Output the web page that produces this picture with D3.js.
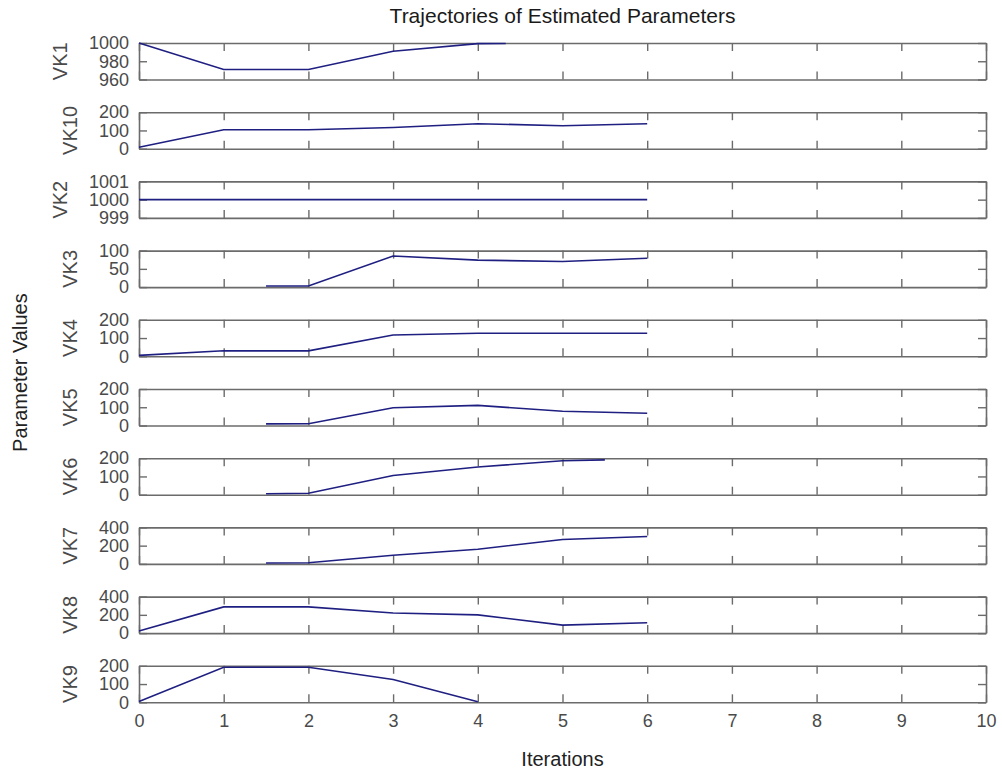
<!DOCTYPE html>
<html>
<head>
<meta charset="utf-8">
<script src="https://cdn.jsdelivr.net/npm/d3@7"></script>
<style>
  html, body { margin: 0; padding: 0; background: #fff; }
  svg { display: block; }
  text { font-family: "Liberation Sans", Arial, sans-serif; }
</style>
</head>
<body>
<svg id="chart" width="1002" height="778"></svg>
<script>
// Panel names, top to bottom
const panelNames = ["VK1", "VK10", "VK2", "VK3", "VK4", "VK5", "VK6", "VK7", "VK8", "VK9"];

// Iteration values along the x axis
const itersFull  = [0, 1, 2, 3, 4, 5, 6];
const itersLate  = [1.5, 2, 3, 4, 5, 6];
const itersVK1   = [0, 1, 2, 3, 4, 4.33];
const itersVK6   = [1.5, 2, 3, 4, 5, 5.5];
const itersVK9   = [0, 1, 2, 3, 4];

// Estimated parameter values per iteration
const valsVK1  = [1000, 971, 971, 991, 999.3, 999.5];
const valsVK10 = [8, 104, 104, 116, 137, 126, 137];
const valsVK2  = [1000, 1000, 1000, 1000, 1000, 1000, 1000];
const valsVK3  = [3, 3, 85, 74, 70, 79];
const valsVK4  = [5, 30, 30, 117, 126, 126, 126];
const valsVK5  = [9, 10, 97, 110, 78, 67];
const valsVK6  = [5, 8, 105, 152, 186, 191];
const valsVK7  = [10, 12, 95, 160, 268, 300];
const valsVK8  = [22, 287, 287, 220, 200, 87, 113];
const valsVK9  = [5, 192, 192, 125, 3];

// Y-axis ranges and tick labels per panel
const yDomains = [[960, 1000], [0, 200], [999, 1001], [0, 100], [0, 200], [0, 200], [0, 200], [0, 400], [0, 400], [0, 200]];
const yTicks = [[960, 980, 1000], [0, 100, 200], [999, 1000, 1001], [0, 50, 100], [0, 100, 200], [0, 100, 200], [0, 100, 200], [0, 200, 400], [0, 200, 400], [0, 100, 200]];

// X-axis ticks
const xTicks = [0, 1, 2, 3, 4, 5, 6, 7, 8, 9, 10];

const seriesX = [itersVK1, itersFull, itersFull, itersLate, itersFull, itersLate, itersVK6, itersLate, itersFull, itersVK9];
const seriesY = [valsVK1, valsVK10, valsVK2, valsVK3, valsVK4, valsVK5, valsVK6, valsVK7, valsVK8, valsVK9];

const svg = d3.select("#chart");

const left = 139, right = 986;
const firstTop = 43, period = 69.2, panelH = 36.5;
const tickLen = 8;
const boxColor = "#6b6b6b";
const tickTextColor = "#4a4a4a";
const lineColor = "#1f1f82";

const x = d3.scaleLinear().domain([0, 10]).range([left, right]);

panelNames.forEach((name, i) => {
  const top = firstTop + i * period;
  const bottom = top + panelH;
  const y = d3.scaleLinear().domain(yDomains[i]).range([bottom, top]);
  const g = svg.append("g");
  const isLast = i === panelNames.length - 1;

  // inward ticks on all four sides of the box
  const xb = d3.axisBottom(x).tickValues(xTicks).tickSizeInner(-tickLen).tickSizeOuter(0).tickFormat(isLast ? d3.format("d") : "");
  const xt = d3.axisTop(x).tickValues(xTicks).tickSizeInner(-tickLen).tickSizeOuter(0).tickFormat("");
  const yl = d3.axisLeft(y).tickValues(yTicks[i]).tickSizeInner(-tickLen).tickSizeOuter(0).tickFormat(d3.format("d"));
  const yr = d3.axisRight(y).tickValues(yTicks[i]).tickSizeInner(-tickLen).tickSizeOuter(0).tickFormat("");

  const gxb = g.append("g").attr("transform", `translate(0,${bottom})`).call(xb);
  g.append("g").attr("transform", `translate(0,${top})`).call(xt);
  const gyl = g.append("g").attr("transform", `translate(${left},0)`).call(yl);
  g.append("g").attr("transform", `translate(${right},0)`).call(yr);

  g.selectAll(".domain").attr("stroke", boxColor).attr("stroke-width", 1.6);
  g.selectAll(".tick line").attr("stroke", boxColor).attr("stroke-width", 1.4);
  g.selectAll(".tick text")
    .attr("fill", tickTextColor)
    .style("font-size", "18px")
    .style("font-family", "'Liberation Sans', Arial, sans-serif");

  // y tick labels sit just left of the box
  gyl.selectAll(".tick text").attr("x", -10);

  // x tick labels below the bottom panel
  if (isLast) {
    gxb.selectAll(".tick text").attr("y", 12).attr("dy", "0.71em");
  }

  // trajectory
  const pts = seriesX[i].map((v, k) => [v, seriesY[i][k]]);
  g.append("path")
    .datum(pts)
    .attr("fill", "none")
    .attr("stroke", lineColor)
    .attr("stroke-width", 1.6)
    .attr("d", d3.line().x(d => x(d[0])).y(d => y(d[1])));

  // panel label, left of the tick labels
  const maxLabel = d3.max(yTicks[i], t => String(t).length);
  const labelX = maxLabel >= 4 ? 60 : 70;
  svg.append("text")
    .attr("transform", `translate(${labelX},${(top + bottom) / 2}) rotate(-90)`)
    .attr("text-anchor", "middle")
    .attr("dy", "0.35em")
    .attr("fill", tickTextColor)
    .style("font-size", "20px")
    .text(name);
});

// Title
svg.append("text")
  .attr("x", (left + right) / 2)
  .attr("y", 23)
  .attr("text-anchor", "middle")
  .attr("fill", "#1a1a1a")
  .style("font-size", "21px")
  .text("Trajectories of Estimated Parameters");

// X label
svg.append("text")
  .attr("x", (left + right) / 2)
  .attr("y", 766)
  .attr("text-anchor", "middle")
  .attr("fill", "#222")
  .style("font-size", "20px")
  .text("Iterations");

// Shared y label
svg.append("text")
  .attr("transform", `translate(20,${(firstTop + 9 * period + panelH + firstTop) / 2}) rotate(-90)`)
  .attr("text-anchor", "middle")
  .attr("dy", "0.35em")
  .attr("fill", "#222")
  .style("font-size", "20px")
  .text("Parameter Values");
</script>
</body>
</html>
